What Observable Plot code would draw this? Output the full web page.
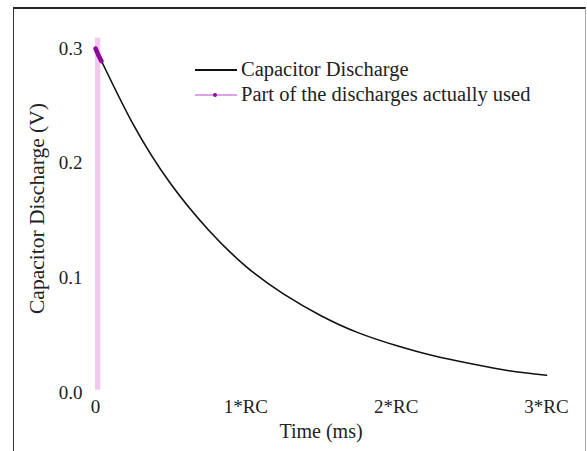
<!DOCTYPE html>
<html>
<head>
<meta charset="utf-8">
<script src="https://cdn.jsdelivr.net/npm/d3@7"></script>
<script src="https://cdn.jsdelivr.net/npm/@observablehq/plot@0.6"></script>
<style>
  html, body { margin: 0; padding: 0; background: #fff; overflow: hidden; }
  #wrap { position: relative; width: 587px; height: 451px; }
  #frame { position: absolute; left: 13px; top: 7px; width: 573px; height: 460px;
           border-top: 2px solid #222; border-left: 1px solid #333; border-right: 1px solid #aaa; box-sizing: border-box; pointer-events: none; }
  #legend { position: absolute; left: 195px; top: 57px; font-family: "Liberation Serif", serif; font-size: 20.5px; color: #222; }
  .row { display: flex; align-items: center; height: 25px; }
  .row svg { margin-right: 4px; }
</style>
</head>
<body>
<div id="wrap"></div>
<script>
// Time in multiples of RC, and voltage
const timeRC = [0, 0.25, 0.5, 0.75, 1, 1.25, 1.5, 1.75, 2, 2.25, 2.5, 2.75, 3];
const voltage = [0.300, 0.234, 0.182, 0.142, 0.110, 0.086, 0.067, 0.052, 0.041, 0.032, 0.025, 0.019, 0.015];
// Part of the discharge actually used
const usedTime = [0, 0.02, 0.04];
const usedVoltage = [0.300, 0.294, 0.289];
// Highlighted window
const bandTime = [0, 0.035];
const bandVoltage = [0.002, 0.309];
// Tick labels
const xTicks = [0, 1, 2, 3];
const xTickLabels = ["0", "1*RC", "2*RC", "3*RC"];
const yTicks = [0, 0.1, 0.2, 0.3];
const yTickLabels = ["0.0", "0.1", "0.2", "0.3"];
const seriesNames = ["Capacitor Discharge", "Part of the discharges actually used"];
const yLabel = "Capacitor Discharge (V)";
const xLabel = "Time (ms)";

const curve = timeRC.map((t, i) => ({t, v: voltage[i]}));
const used = usedTime.map((t, i) => ({t, v: usedVoltage[i]}));
const band = [{x1: bandTime[0], x2: bandTime[1], y1: bandVoltage[0], y2: bandVoltage[1]}];

const chart = Plot.plot({
  width: 587,
  height: 451,
  marginLeft: 95,
  marginRight: 41,
  marginTop: 48,
  marginBottom: 59,
  style: {fontFamily: "Liberation Serif, serif", fontSize: "19px", color: "#222", background: "transparent"},
  x: {domain: [0, 3]},
  y: {domain: [0, 0.3]},
  marks: [
    Plot.rect(band, {x1: "x1", x2: "x2", y1: "y1", y2: "y2", fill: "#f4c8ee"}),
    Plot.line(curve, {x: "t", y: "v", stroke: "#111", strokeWidth: 1.6, curve: "natural"}),
    Plot.line(used, {x: "t", y: "v", stroke: "#8e0a9a", strokeWidth: 4.5, strokeLinecap: "round"}),
    Plot.axisX({ticks: xTicks, tickFormat: d => xTickLabels[xTicks.indexOf(d)], tickSize: 0, tickPadding: 7, label: null, fontSize: 19}),
    Plot.axisY({ticks: yTicks, tickFormat: d => yTickLabels[yTicks.findIndex(v => Math.abs(v - d) < 1e-9)], tickSize: 0, tickPadding: 13, label: null, fontSize: 19}),
    Plot.text([yLabel], {text: d => d, frameAnchor: "left", textAnchor: "middle", dx: -58, dy: -12, rotate: -90, fontSize: 21.5, fill: "#222"}),
    Plot.text([xLabel], {text: d => d, frameAnchor: "bottom", dy: 45, fontSize: 20, fill: "#222"})
  ]
});

const wrap = document.getElementById("wrap");
chart.style.position = "absolute";
chart.style.left = "0";
chart.style.top = "0";
wrap.appendChild(chart);

const frame = document.createElement("div");
frame.id = "frame";
wrap.appendChild(frame);

const legend = document.createElement("div");
legend.id = "legend";
legend.innerHTML = `
  <div class="row"><svg width="42" height="10"><line x1="0" y1="5" x2="42" y2="5" stroke="#111" stroke-width="1.8"/></svg><span>${seriesNames[0]}</span></div>
  <div class="row"><svg width="42" height="10"><line x1="0" y1="5" x2="42" y2="5" stroke="#c040d8" stroke-width="1"/><circle cx="20" cy="5" r="2" fill="#8e0a9a"/></svg><span>${seriesNames[1]}</span></div>`;
wrap.appendChild(legend);
</script>
</body>
</html>
